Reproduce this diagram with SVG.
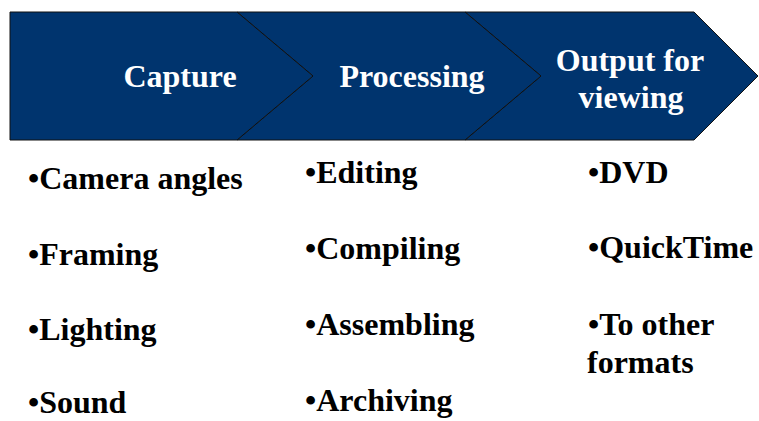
<svg xmlns="http://www.w3.org/2000/svg" width="759" height="421" viewBox="0 0 759 421">
<style>
.chev{fill:#00346E;stroke:#111;stroke-width:1;stroke-linejoin:miter}
.h{font-family:"Liberation Serif","Times New Roman",serif;font-weight:bold;font-size:32px;fill:#fff;text-anchor:middle}
.b{font-family:"Liberation Serif","Times New Roman",serif;font-weight:bold;font-size:32px;fill:#000}
</style>
<rect width="759" height="421" fill="#fff"/>
<g id="step-output">
<polygon class="chev" points="465,12 694,12 758,76 694,140 465,140 541,76"/>
<text class="h" x="630" y="71">Output for</text>
<text class="h" x="631" y="108">viewing</text>
</g>
<g id="step-processing">
<polygon class="chev" points="237,12 465,12 541,76 465,140 237,140 313,76"/>
<text class="h" x="412" y="87">Processing</text>
</g>
<g id="step-capture">
<polygon class="chev" points="10,12 237,12 313,76 237,140 10,140"/>
<text class="h" x="180" y="87">Capture</text>
</g>
<g id="connectors"></g>
<g id="list-capture">
<text class="b" x="28" y="189">•Camera angles</text>
<text class="b" x="28" y="265">•Framing</text>
<text class="b" x="28" y="340">•Lighting</text>
<text class="b" x="28" y="413">•Sound</text>
</g>
<g id="list-processing">
<text class="b" x="305" y="183">•Editing</text>
<text class="b" x="305" y="259">•Compiling</text>
<text class="b" x="305" y="335">•Assembling</text>
<text class="b" x="305" y="411">•Archiving</text>
</g>
<g id="list-output">
<text class="b" x="588" y="183">•DVD</text>
<text class="b" x="588" y="258">•QuickTime</text>
<text class="b" x="588" y="335">•To other</text>
<text class="b" x="587" y="373">formats</text>
</g>
</svg>
